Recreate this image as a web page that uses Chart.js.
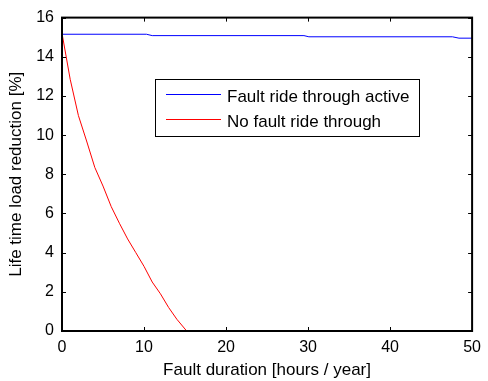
<!DOCTYPE html>
<html>
<head>
<meta charset="utf-8">
<script src="https://cdn.jsdelivr.net/npm/chart.js@4"></script>
<style>
    html, body { margin: 0; padding: 0; background: #fff; }
    #wrap { width: 488px; height: 381px; }
</style>
</head>
<body>
<div id="wrap"><canvas id="chart" width="488" height="381"></canvas></div>
<script>
// values
const rideThroughX = [0, 10.3, 11, 29.5, 30.1, 47.6, 48.4, 50];
const rideThroughY = [15.15, 15.15, 15.08, 15.08, 15.02, 15.02, 14.95, 14.95];
const noRideX = [0, 1, 2, 3, 4, 5, 6, 7, 8, 9, 10, 11, 12, 13, 14, 15.2];
const noRideY = [15.2, 12.85, 11.0, 9.7, 8.35, 7.4, 6.35, 5.5, 4.7, 4.0, 3.3, 2.5, 1.9, 1.2, 0.6, 0];
const seriesLabels = ['Fault ride through active', 'No fault ride through'];
const xTicks = [0, 10, 20, 30, 40, 50];
const yTicks = [0, 2, 4, 6, 8, 10, 12, 14, 16];

const FONT = '"Liberation Sans", Arial, Helvetica, sans-serif';

function toPoints(xs, ys) {
    return xs.map((x, i) => ({ x: x, y: ys[i] }));
}

// matlab style box, inward ticks and legend
const matlabFrame = {
    id: 'matlabFrame',
    afterDatasetsDraw(chart) {
        const ctx = chart.ctx;
        const a = chart.chartArea;
        const sx = chart.scales.x;
        const sy = chart.scales.y;
        ctx.save();
        ctx.strokeStyle = '#000';
        ctx.lineWidth = 1;
        xTicks.forEach(v => {
            const px = Math.round(sx.getPixelForValue(v)) + 0.5;
            ctx.beginPath();
            ctx.moveTo(px, a.bottom); ctx.lineTo(px, a.bottom - 4);
            ctx.moveTo(px, a.top); ctx.lineTo(px, a.top + 4);
            ctx.stroke();
        });
        yTicks.forEach(v => {
            const py = Math.round(sy.getPixelForValue(v)) + 0.5;
            ctx.beginPath();
            ctx.moveTo(a.left, py); ctx.lineTo(a.left + 4, py);
            ctx.moveTo(a.right, py); ctx.lineTo(a.right - 4, py);
            ctx.stroke();
        });
        ctx.lineWidth = 2;
        ctx.strokeRect(a.left, a.top, a.right - a.left, a.bottom - a.top);

        // legend box
        const bx = 155, by = 79, bw = 264, bh = 57;
        ctx.fillStyle = '#fff';
        ctx.fillRect(bx, by, bw, bh);
        ctx.lineWidth = 1;
        ctx.strokeRect(bx + 0.5, by + 0.5, bw, bh);
        ctx.font = '17px ' + FONT;
        ctx.textBaseline = 'alphabetic';
        chart.data.datasets.forEach((ds, i) => {
            const ly = 94 + i * 25;
            ctx.strokeStyle = ds.borderColor;
            ctx.beginPath();
            ctx.moveTo(166, ly + 0.5); ctx.lineTo(221, ly + 0.5);
            ctx.stroke();
            ctx.fillStyle = '#000';
            ctx.fillText(ds.label, 227, ly + 8);
        });
        ctx.restore();
    }
};

new Chart(document.getElementById('chart'), {
    type: 'line',
    data: {
        datasets: [
            {
                label: seriesLabels[0],
                data: toPoints(rideThroughX, rideThroughY),
                borderColor: '#0000ff',
                borderWidth: 1,
                pointRadius: 0,
                tension: 0
            },
            {
                label: seriesLabels[1],
                data: toPoints(noRideX, noRideY),
                borderColor: '#ff0000',
                borderWidth: 1,
                pointRadius: 0,
                tension: 0
            }
        ]
    },
    options: {
        responsive: false,
        animation: false,
        layout: { padding: { top: 16, right: 10, left: 0, bottom: 0 } },
        plugins: {
            legend: { display: false },
            tooltip: { enabled: false }
        },
        scales: {
            x: {
                type: 'linear',
                min: 0,
                max: 50,
                afterBuildTicks: s => { s.ticks = xTicks.map(v => ({ value: v })); },
                afterFit: s => { s.height = 50; },
                grid: { display: false, drawTicks: false },
                border: { display: false },
                ticks: { color: '#000', font: { family: FONT, size: 16 }, padding: 7, maxRotation: 0 },
                title: { display: true, text: 'Fault duration [hours / year]', color: '#000', font: { family: FONT, size: 17 }, padding: { top: 0, bottom: 0 } }
            },
            y: {
                min: 0,
                max: 16,
                afterBuildTicks: s => { s.ticks = yTicks.map(v => ({ value: v })); },
                afterFit: s => { s.width = 62; },
                grid: { display: false, drawTicks: false },
                border: { display: false },
                ticks: { color: '#000', font: { family: FONT, size: 16 }, padding: 8 },
                title: { display: true, text: 'Life time load reduction [%]', color: '#000', font: { family: FONT, size: 17 }, padding: { top: 6, bottom: 0 } }
            }
        }
    },
    plugins: [matlabFrame]
});
</script>
</body>
</html>
